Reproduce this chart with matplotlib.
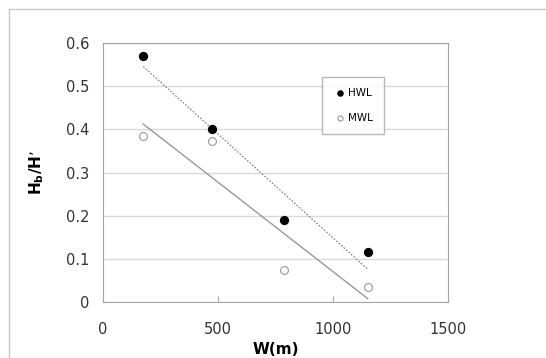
import numpy as np
import matplotlib.pyplot as plt
from matplotlib.lines import Line2D

w = [175, 472, 788, 1151]
hwl = [0.57, 0.40, 0.19, 0.115]
mwl = [0.385, 0.373, 0.075, 0.035]

fig = plt.figure(figsize=(5.46, 3.58), dpi=100)
ax = fig.add_axes([0.1886, 0.156, 0.632, 0.724])

# outer frame (top and left edges only visible)
fig.add_artist(Line2D([9/546, 1.0], [1 - 9/358, 1 - 9/358], transform=fig.transFigure, color='#c8c8c8', lw=1))
fig.add_artist(Line2D([9/546, 9/546], [0, 1 - 9/358], transform=fig.transFigure, color='#c8c8c8', lw=1))

# trend lines
x = np.array(w)
p1 = np.polyfit(x, hwl, 1)
p2 = np.polyfit(x, mwl, 1)
xs = np.array([min(w), max(w)])
ax.plot(xs, np.polyval(p1, xs), color='#777777', lw=0.8, ls=(0, (1.5, 1.5)))
ax.plot(xs, np.polyval(p2, xs), color='#999999', lw=1.0)

ax.scatter(w, hwl, s=32, color='black', zorder=3, label='HWL')
ax.scatter(w, mwl, s=32, facecolor='white', edgecolor='#999999', lw=0.8, zorder=3, label='MWL')

ax.set_xlim(0, 1500)
ax.set_ylim(0, 0.6)
ax.set_xticks([0, 500, 1000, 1500])
ax.set_yticks([0, 0.1, 0.2, 0.3, 0.4, 0.5, 0.6])
ax.set_yticklabels(['0', '0.1', '0.2', '0.3', '0.4', '0.5', '0.6'])
ax.grid(axis='y', color='#d9d9d9', lw=1)
ax.set_axisbelow(True)
for s in ax.spines.values():
    s.set_color('#a6a6a6')
ax.tick_params(axis='x', direction='in', length=4, color='#a6a6a6', labelsize=10.5, pad=14, labelcolor='#333333')
ax.tick_params(axis='y', length=0, labelsize=10.5, pad=10, labelcolor='#333333')

ax.set_xlabel('W(m)', fontsize=11, fontweight='bold', labelpad=4)
ax.set_ylabel("H$_\\mathbf{b}$/H’", fontsize=11, fontweight='bold', labelpad=14)

leg = ax.legend(loc='upper left', bbox_to_anchor=(0.635, 0.87), fontsize=7.5, frameon=True,
                fancybox=False, edgecolor='#a6a6a6', markerscale=0.65, handletextpad=0.05,
                labelspacing=1.4, borderpad=1.1, handlelength=1.3, borderaxespad=0)
leg.get_frame().set_linewidth(1)

plt.savefig('out.png')
